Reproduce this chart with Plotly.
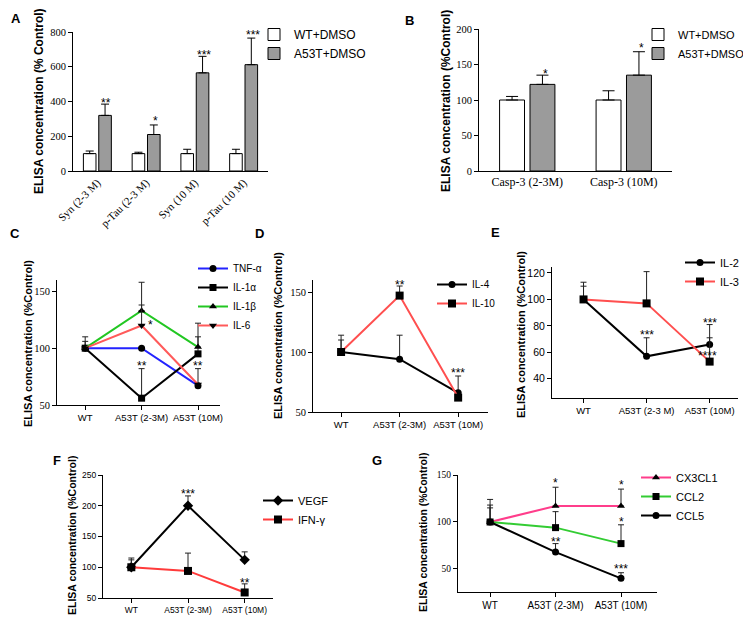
import plotly.graph_objects as go

# The page body has an 8 px default margin, so the figure is 8 px smaller
# and all layout positions below are given in window pixels, minus that offset.
OFF = 8
W, H = 751 - OFF, 623 - OFF
def fx(p): return (p - OFF) / W
def fy(p): return 1 - (p - OFF) / H

# ---------------- data ----------------
# Panel A
a_cats = ["Syn (2-3 M)", "p-Tau (2-3 M)", "Syn (10 M)", "p-Tau (10 M)"]
a_wt = [100, 100, 100, 100]
a_wt_err = [15, 8, 25, 25]
a_tg = [320, 210, 565, 612]
a_tg_err = [65, 55, 95, 153]
a_sig = ["**", "*", "***", "***"]
a_sig_y = [409, 305, 685, 800]

# Panel B
b_cats = ["Casp-3 (2-3M)", "Casp-3 (10M)"]
b_wt = [100, 100]
b_wt_err = [5, 13]
b_tg = [122, 135]
b_tg_err = [13, 33]
b_sig = ["*", "*"]
b_sig_y = [141, 177]

groups = ["WT", "A53T (2-3M)", "A53T (10M)"]
e_groups = ["WT", "A53T (2-3 M)", "A53T (10M)"]

# Panel C
c_tnf = [100, 100, 67];   c_tnf_err = [6, 0, 0]
c_il1a = [100, 56, 95];   c_il1a_err = [10, 26, 15]
c_il1b = [100, 133, 101]; c_il1b_err = [0, 25, 21]
c_il6 = [100, 120, 68];   c_il6_err = [0, 18, 14]
c_sig = [("*", 1, 163, 0), ("*", 1, 123, 9), ("**", 1, 87, 0), ("**", 2, 87, 0)]

# Panel D
d_il4 = [100, 94, 66];   d_il4_err = [14, 20, 14]
d_il10 = [100, 147, 62]; d_il10_err = [10, 8, 0]
d_sig = [("**", 1, 158, 0), ("***", 2, 85, 0)]

# Panel E
e_il2 = [100, 57, 66]; e_il2_err = [13, 14, 15]
e_il3 = [100, 97, 53]; e_il3_err = [10, 24, 18]
e_sig = [("***", 1, 75.5, 0), ("***", 2, 84.5, 0), ("****", 2, 59.5, -2)]

# Panel F
f_vegf = [100, 200, 112]; f_vegf_err = [15, 16, 13]
f_ifn = [100, 94, 59];    f_ifn_err = [12, 29, 14]
f_sig = [("***", 1, 224, 0), ("**", 2, 79, 0)]

# Panel G
g_cx3 = [100, 117, 117]; g_cx3_err = [24, 20, 18]
g_ccl2 = [100, 94, 77];  g_ccl2_err = [18, 17, 20]
g_ccl5 = [100, 68, 40];  g_ccl5_err = [15, 9, 6]
g_sig = [("*", 1, 144.5, 0), ("*", 2, 142.5, 0), ("*", 2, 103, 0),
         ("**", 1, 82, 0), ("***", 2, 53, 0)]

SERIF = "Liberation Serif"
SANS = "Liberation Sans"

fig = go.Figure()

def err(arr, color="black", w=3):
    return dict(type="data", symmetric=False, array=arr, arrayminus=[0] * len(arr),
                color=color, thickness=1, width=w)

# ---------------- bars ----------------
fig.add_trace(go.Bar(x=a_cats, y=a_wt, name="WT+DMSO", marker=dict(color="white", line=dict(color="black", width=1)),
                     error_y=err(a_wt_err, w=4), xaxis="x", yaxis="y", legend="legend"))
fig.add_trace(go.Bar(x=a_cats, y=a_tg, name="A53T+DMSO", marker=dict(color="#9b9b9b", line=dict(color="black", width=1)),
                     error_y=err(a_tg_err, w=4), xaxis="x", yaxis="y", legend="legend"))
fig.add_trace(go.Bar(x=b_cats, y=b_wt, name="WT+DMSO", marker=dict(color="white", line=dict(color="black", width=1)),
                     error_y=err(b_wt_err, w=6), xaxis="x2", yaxis="y2", legend="legend2"))
fig.add_trace(go.Bar(x=b_cats, y=b_tg, name="A53T+DMSO", marker=dict(color="#9b9b9b", line=dict(color="black", width=1)),
                     error_y=err(b_tg_err, w=6), xaxis="x2", yaxis="y2", legend="legend2"))

def line(x, y, e, name, color, symbol, ax, size=7):
    fig.add_trace(go.Scatter(x=x, y=y, name=name, mode="lines+markers",
                             line=dict(color=color, width=2),
                             marker=dict(color="black", symbol=symbol, size=size),
                             error_y=err(e, color="#222222", w=3),
                             xaxis="x" + ax, yaxis="y" + ax, legend="legend" + ax))

# C
line(groups, c_tnf, c_tnf_err, "TNF-α", "#2323ff", "circle", "3")
line(groups, c_il1a, c_il1a_err, "IL-1α", "black", "square", "3")
line(groups, c_il1b, c_il1b_err, "IL-1β", "#22c722", "triangle-up", "3")
line(groups, c_il6, c_il6_err, "IL-6", "#ff5a5a", "triangle-down", "3")
# D
line(groups, d_il4, d_il4_err, "IL-4", "black", "circle", "4")
line(groups, d_il10, d_il10_err, "IL-10", "#ff4f4f", "square", "4", size=8)
# E
line(e_groups, e_il2, e_il2_err, "IL-2", "black", "circle", "5")
line(e_groups, e_il3, e_il3_err, "IL-3", "#ff4f4f", "square", "5", size=8)
# F
line(groups, f_vegf, f_vegf_err, "VEGF", "black", "diamond", "6", size=8)
line(groups, f_ifn, f_ifn_err, "IFN-γ", "#ff3b3b", "square", "6", size=8)
# G
line(groups, g_cx3, g_cx3_err, "CX3CL1", "#ff3d8b", "triangle-up", "7")
line(groups, g_ccl2, g_ccl2_err, "CCL2", "#33cc33", "square", "7")
line(groups, g_ccl5, g_ccl5_err, "CCL5", "black", "circle", "7")

# ---------------- axes ----------------
def xax(x0, x1, anchor, **kw):
    d = dict(domain=[fx(x0), fx(x1)], anchor=anchor, showline=True, linecolor="black", linewidth=1,
             showgrid=False, zeroline=False, ticks="outside", ticklen=4, tickcolor="black", tickwidth=1,
             automargin=False)
    d.update(kw)
    return d

def yax(y_bottom, y_top, anchor, **kw):
    d = dict(domain=[fy(y_bottom), fy(y_top)], anchor=anchor, showline=True, linecolor="black", linewidth=1,
             showgrid=False, zeroline=False, ticks="outside", ticklen=4, tickcolor="black", tickwidth=1,
             automargin=False)
    d.update(kw)
    return d

layout_axes = dict(
    xaxis=xax(73, 268, "y", type="category", ticks="", tickangle=-45,
              tickfont=dict(family=SERIF, size=11, color="black")),
    yaxis=yax(171, 32, "x", range=[0, 800], dtick=200, tickfont=dict(family=SERIF, size=10.5, color="black")),
    xaxis2=xax(479, 672, "y2", type="category", ticks="", tickfont=dict(family=SERIF, size=12, color="black")),
    yaxis2=yax(171, 29, "x2", range=[0, 200], dtick=50, tickfont=dict(family=SERIF, size=10.5, color="black")),
    xaxis3=xax(57, 220, "y3", type="category", range=[-0.5, 2.39], tickfont=dict(family=SANS, size=9.5, color="black")),
    yaxis3=yax(405, 280, "x3", range=[50, 160], tickvals=[50, 100, 150], tickfont=dict(family=SERIF, size=10.5, color="black")),
    xaxis4=xax(313, 488, "y4", type="category", range=[-0.48, 2.51], tickfont=dict(family=SANS, size=9.5, color="black")),
    yaxis4=yax(412, 280, "x4", range=[50, 160], tickvals=[50, 100, 150], tickfont=dict(family=SERIF, size=10.5, color="black")),
    xaxis5=xax(552, 738, "y5", type="category", range=[-0.5, 2.45], tickfont=dict(family=SANS, size=9.5, color="black")),
    yaxis5=yax(398, 267, "x5", range=[25.5, 124.5], tickvals=[40, 60, 80, 100, 120], tickfont=dict(family=SANS, size=10.5, color="black")),
    xaxis6=xax(103, 273, "y6", type="category", range=[-0.5, 2.5], tickfont=dict(family=SANS, size=8.5, color="black")),
    yaxis6=yax(598, 475, "x6", range=[50, 250], dtick=50, tickfont=dict(family=SANS, size=8.5, color="black")),
    xaxis7=xax(458, 657, "y7", type="category", range=[-0.49, 2.55], tickfont=dict(family=SANS, size=10, color="black")),
    yaxis7=yax(592, 475, "x7", range=[25.5, 150], tickvals=[50, 100, 150], tickfont=dict(family=SERIF, size=9.5, color="black")),
)

def leg(x, y, size):
    return dict(x=fx(x), y=fy(y), xanchor="left", yanchor="top", bgcolor="rgba(0,0,0,0)",
                font=dict(family=SANS, size=size, color="black"), itemwidth=30, tracegroupgap=0)

legends = dict(
    legend=leg(254, 20, 12),
    legend2=leg(638, 20, 11),
    legend3=leg(193, 254, 10),
    legend4=leg(432, 270, 10),
    legend5=leg(680, 248, 11),
    legend6=leg(258, 486, 11),
    legend7=leg(636, 463, 11),
)

# ---------------- annotations ----------------
ann = []
def star(text, x, y, xr, yr, xshift=0, size=12):
    ann.append(dict(text=text, x=x, y=y, xref=xr, yref=yr, showarrow=False, xanchor="center", yanchor="middle",
                    xshift=xshift, yshift=-3, font=dict(family=SANS, size=size, color="black")))

for i, (t, yv) in enumerate(zip(a_sig, a_sig_y)):
    star(t, a_cats[i], yv, "x", "y", xshift=9)
for i, (t, yv) in enumerate(zip(b_sig, b_sig_y)):
    star(t, b_cats[i], yv, "x2", "y2", xshift=18)
for t, i, yv, sh in c_sig:
    star(t, groups[i], yv, "x3", "y3", xshift=sh)
for t, i, yv, sh in d_sig:
    star(t, groups[i], yv, "x4", "y4", xshift=sh)
for t, i, yv, sh in e_sig:
    star(t, e_groups[i], yv, "x5", "y5", xshift=sh)
for t, i, yv, sh in f_sig:
    star(t, groups[i], yv, "x6", "y6", xshift=sh)
for t, i, yv, sh in g_sig:
    star(t, groups[i], yv, "x7", "y7", xshift=sh)

def ytitle(text, x, y, size):
    ann.append(dict(text=text, x=fx(x), y=fy(y), xref="paper", yref="paper", showarrow=False,
                    textangle=-90, xanchor="center", yanchor="middle",
                    font=dict(family=SANS, size=size, color="black", weight="bold")))

ytitle("ELISA concentration (% Control)", 39, 101, 12)
ytitle("ELISA concentration (%Control)", 446, 101, 12)
ytitle("ELISA concentration (%Control)", 28, 344, 11)
ytitle("ELISA concentration (%Control)", 278, 336, 11)
ytitle("ELISA concentration (%Control)", 521, 335, 11)
ytitle("ELISA concentration (%Control)", 72, 536, 10.5)
ytitle("ELISA concentration (%Control)", 423, 533, 10.5)

def plabel(text, x, y, anchor="middle"):
    ann.append(dict(text=text, x=fx(x), y=fy(y), xref="paper", yref="paper", showarrow=False,
                    xanchor="left", yanchor=anchor,
                    font=dict(family=SANS, size=13, color="black", weight="bold")))

plabel("A", 9, 9, anchor="top")
plabel("B", 403, 20)
plabel("C", 8, 234)
plabel("D", 253, 234)
plabel("E", 489, 232)
plabel("F", 51, 460)
plabel("G", 370, 460)

fig.update_layout(
    width=W, height=H, margin=dict(l=0, r=0, t=0, b=0, autoexpand=False),
    paper_bgcolor="white", plot_bgcolor="white",
    barmode="group", bargap=0.37, bargroupgap=0.18,
    showlegend=True, annotations=ann,
    **layout_axes, **legends,
)

fig.write_html("out.html")
